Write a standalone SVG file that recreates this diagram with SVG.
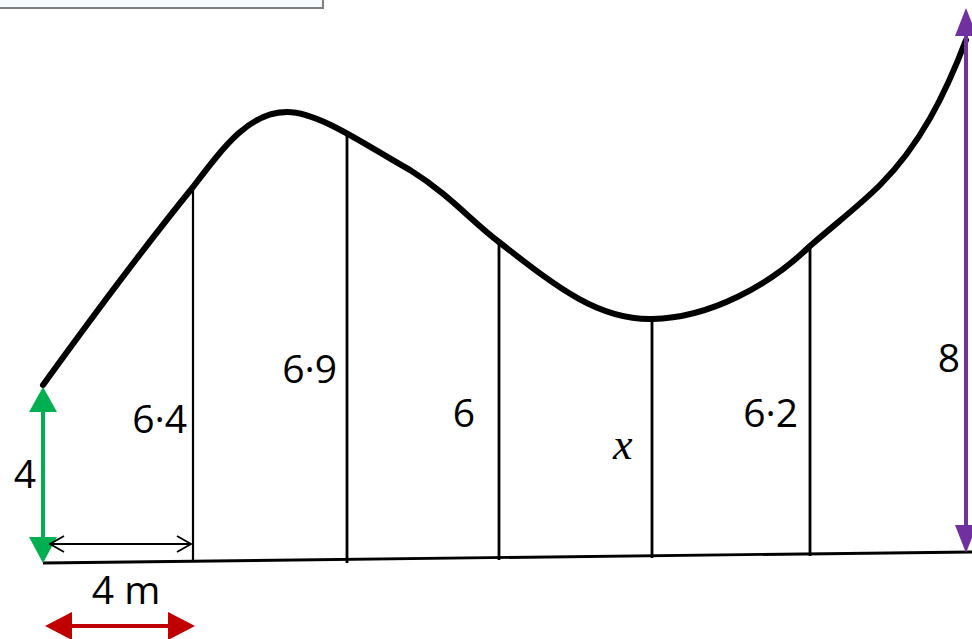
<svg xmlns="http://www.w3.org/2000/svg" width="972" height="639" viewBox="0 0 972 639">
<defs>
<style>
.lbl{font-family:"Open Sans","Liberation Sans",sans-serif;font-size:39px;fill:#000}
.ord{stroke:#000;stroke-width:2.8;fill:none}
</style>
<marker id="chev" viewBox="0 0 16 18" refX="15" refY="9" markerWidth="16" markerHeight="18" markerUnits="userSpaceOnUse" orient="auto-start-reverse">
<path d="M1,1 L15,9 L1,17" fill="none" stroke="#000" stroke-width="1.8"/>
</marker>
</defs>
<rect width="972" height="639" fill="#fff"/>
<g id="topbox"><rect x="-2" y="-2" width="325" height="10" fill="#f5fbff" stroke="#7f7f7f" stroke-width="2"/></g>
<g id="baseline"><path d="M43,563 L972,552" stroke="#000" stroke-width="2.8" fill="none"/></g>
<g id="curve"><path d="M43,385 C90,320 150,240 193,187 C225,145 250,112 287,112 C320,112 370,148 410,170 C450,195 470,220 499,242 C560,290 600,320 652,319 C710,318 770,285 810,246 C840,220 860,205 880,185 C920,145 945,95 966,40" stroke="#000" stroke-width="6" fill="none" stroke-linecap="round"/></g>
<g id="ordinates">
<line class="ord" x1="193" y1="187" x2="193" y2="562" style="stroke-width:2.2"/>
<line class="ord" x1="347" y1="133" x2="347" y2="563"/>
<line class="ord" x1="499" y1="242" x2="499" y2="560"/>
<line class="ord" x1="652" y1="319" x2="652" y2="558"/>
<line class="ord" x1="810" y1="246" x2="810" y2="556"/>
</g>
<g id="connectors">
<g id="green-arrow"><line x1="43" y1="405" x2="43" y2="545" stroke="#00b050" stroke-width="4"/><polygon points="43,387 57,412 29,412" fill="#00b050"/><polygon points="43,563 57,537 29,537" fill="#00b050"/></g>
<g id="width-arrow"><line x1="50" y1="544" x2="191" y2="544" stroke="#000" stroke-width="1.8" marker-start="url(#chev)" marker-end="url(#chev)"/></g>
<g id="red-arrow"><line x1="65" y1="626" x2="175" y2="626" stroke="#c00000" stroke-width="4"/><polygon points="45,626 72,612 72,640" fill="#c00000"/><polygon points="195,626 168,612 168,640" fill="#c00000"/></g>
<g id="purple-arrow"><line x1="966" y1="30" x2="966" y2="545" stroke="#7030a0" stroke-width="4"/><polygon points="966,8 977,36 955,36" fill="#7030a0"/><polygon points="966,553 977,525 955,525" fill="#7030a0"/></g>
</g>
<g id="labels">
<text class="lbl" x="187" y="433" text-anchor="end">6·4</text>
<text class="lbl" x="337" y="383" text-anchor="end">6·9</text>
<text class="lbl" x="475" y="427" text-anchor="end">6</text>
<text x="613" y="459" style="font-family:'Liberation Serif','DejaVu Serif',serif;font-style:italic;font-size:44px">x</text>
<text class="lbl" x="798" y="427" text-anchor="end">6·2</text>
<text class="lbl" x="960" y="372" text-anchor="end">8</text>
<text class="lbl" x="36" y="488" text-anchor="end">4</text>
<text class="lbl" x="126" y="604" text-anchor="middle">4 m</text>
</g>
</svg>
